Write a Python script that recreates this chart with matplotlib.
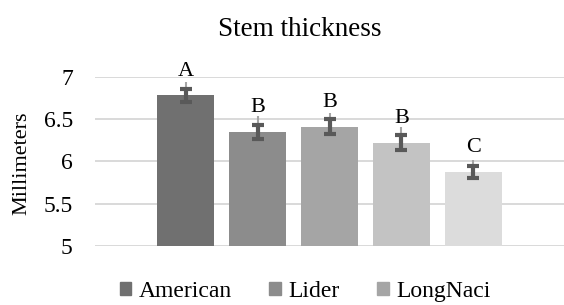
import matplotlib
matplotlib.use("Agg")
import matplotlib.pyplot as plt
from matplotlib.patches import Patch
import numpy as np

plt.rcParams['font.family'] = ['Liberation Serif', 'DejaVu Serif']

# ---- data ----
varieties = ["American", "Lider", "LongNaci", "Variety 4", "Variety 5"]
legend_shown = ["American", "Lider", "LongNaci"]
values = [6.78, 6.35, 6.41, 6.22, 5.875]
err_dark = [0.08, 0.083, 0.085, 0.09, 0.073]
err_light = [0.157, 0.18, 0.16, 0.19, 0.14]
letters = ["A", "B", "B", "B", "C"]
colors = ["#707070", "#8c8c8c", "#a5a5a5", "#c3c3c3", "#dcdcdc"]
yticks = [5, 5.5, 6, 6.5, 7]
ytick_labels = ["5", "5.5", "6", "6.5", "7"]

fig = plt.figure(figsize=(5.64, 3.05), dpi=100)
ax = fig.add_axes([95/564, 1-246/305, (564-95)/564, (246-76.7)/305])

x = np.arange(len(varieties))
ax.bar(x, values, width=0.79, color=colors, zorder=2)
ax.vlines(x, values, np.array(values) + np.array(err_light), color="#a6a6a6", lw=1.5, zorder=3)
ax.errorbar(x, values, yerr=err_dark, fmt='none', ecolor="#595959", elinewidth=3,
            capsize=4.6, capthick=3, zorder=4)

for xi, v, lt in zip(x, values, letters):
    ax.text(xi, v + 0.23, lt, ha='center', va='baseline', fontsize=16, clip_on=False)

ax.set_xlim(-1.257, 5.257)
ax.set_ylim(5, 7)
ax.set_yticks(yticks)
ax.set_yticklabels(ytick_labels, fontsize=17)
ax.set_xticks([])
ax.tick_params(axis='y', length=0, pad=16)
ax.grid(axis='y', color="#d9d9d9", lw=1.4, zorder=0)
ax.set_axisbelow(True)
for s in ax.spines.values():
    s.set_visible(False)

fig.text(300/564, 1-29/305, "Stem thickness", ha='center', va='center', fontsize=19.5)
fig.text(22/564, 1-163/305, "Millimeters", rotation=90, ha='center', va='center', fontsize=16)

handles = [Patch(color=c) for c in colors[:len(legend_shown)]]
fig.legend(handles, legend_shown, loc='center', bbox_to_anchor=(305/564, 0.045), ncol=3,
           frameon=False, handlelength=0.5, handleheight=0.5, handletextpad=0.3,
           columnspacing=1.6, fontsize=17, borderpad=0)

fig.savefig("out.png", dpi=100)
